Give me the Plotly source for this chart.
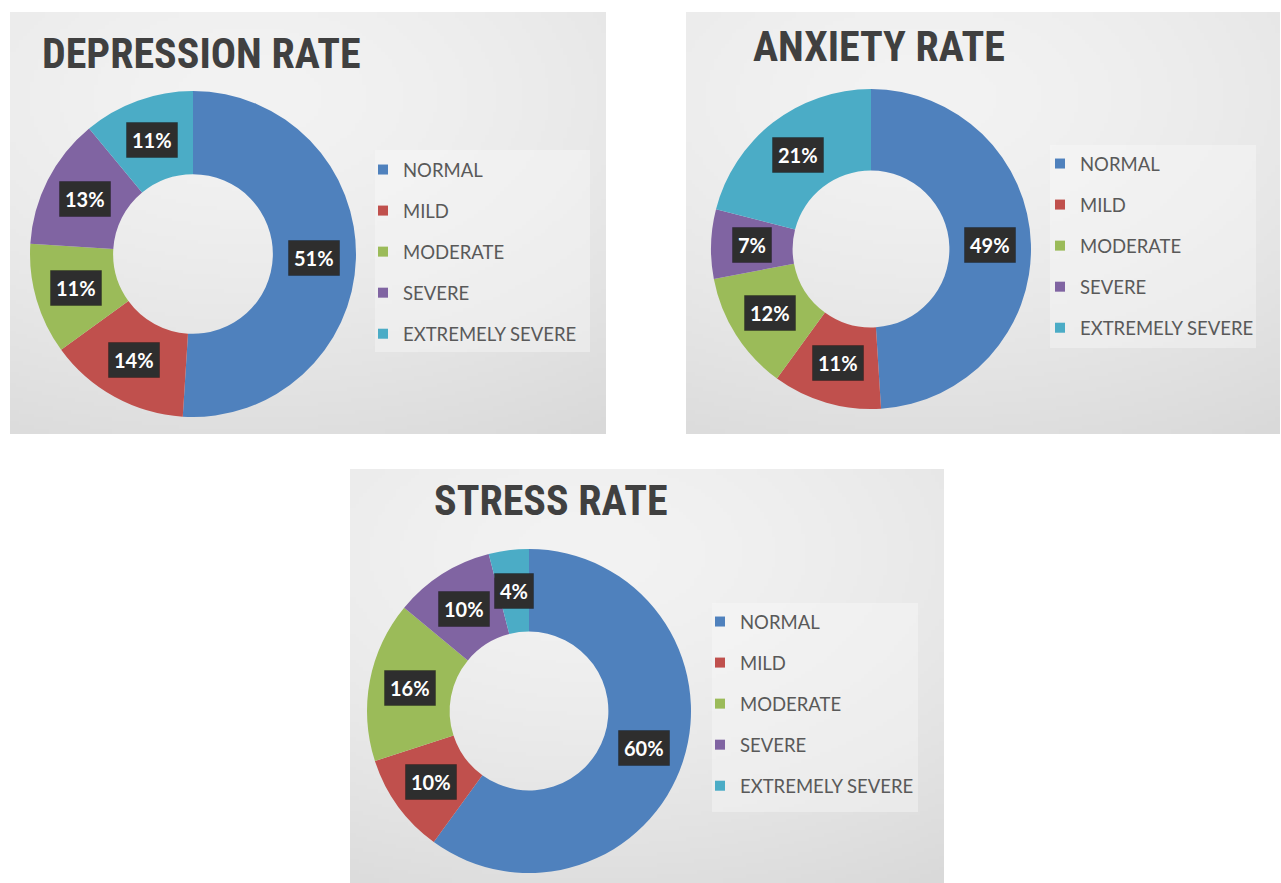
import zlib, struct, base64
import numpy as np
import plotly.graph_objects as go

W, H = 1281, 883

# ---------------- data ----------------
categories = ["NORMAL", "MILD", "MODERATE", "SEVERE", "EXTREMELY SEVERE"]
titles = ["DEPRESSION RATE", "ANXIETY RATE", "STRESS RATE"]
depression = [51, 14, 11, 13, 11]
anxiety = [49, 11, 12, 7, 21]
stress = [60, 10, 16, 10, 4]
series = [depression, anxiety, stress]
colors = ["#4f81bd", "#c0504d", "#9bbb59", "#8064a2", "#4bacc6"]

# ---------------- layout (pixels) ----------------
panels = [(10, 12, 606, 434), (686, 12, 1280, 434), (350, 469, 944, 883)]
centers = [(193, 254, 163), (871, 249, 160), (529, 711, 162)]
hole = 0.49
title_pos = [(40, 54), (751, 46), (432, 500)]
legend_boxes = [(375, 150, 590, 352), (1050, 145, 1256, 348), (712, 603, 918, 812)]
legend_text_start = [(403, 167), (1080, 161), (740, 619)]


def px(x):
    return x / W


def py(y):
    return 1 - y / H


def png_uri(arr):
    h, w = arr.shape
    raw = b"".join(b"\x00" + arr[i].tobytes() for i in range(h))

    def chunk(t, d):
        c = struct.pack(">I", len(d)) + t + d
        return c + struct.pack(">I", zlib.crc32(t + d) & 0xFFFFFFFF)

    png = (b"\x89PNG\r\n\x1a\n"
           + chunk(b"IHDR", struct.pack(">IIBBBBB", w, h, 8, 0, 0, 0, 0))
           + chunk(b"IDAT", zlib.compress(raw))
           + chunk(b"IEND", b""))
    return "data:image/png;base64," + base64.b64encode(png).decode()


gw, gh = 160, 112
gx, gy = np.meshgrid(np.linspace(0, 1, gw), np.linspace(0, 1, gh))
d = np.sqrt(((gx - 0.4) / 1.0) ** 2 + ((gy - 0.2) / 0.85) ** 2)
grad = np.clip(243 - 22 * d ** 1.5, 0, 255).astype(np.uint8)
bg_uri = png_uri(grad)

fig = go.Figure()
images, shapes, annotations = [], [], []
legend_names = ["legend", "legend2", "legend3"]
legend_layouts = {}

for i, vals in enumerate(series):
    x0, y0, x1, y1 = panels[i]
    images.append(dict(source=bg_uri, xref="paper", yref="paper", x=px(x0), y=py(y0),
                       sizex=(x1 - x0) / W, sizey=(y1 - y0) / H, sizing="stretch",
                       xanchor="left", yanchor="top", layer="below"))
    lx0, ly0, lx1, ly1 = legend_boxes[i]
    shapes.append(dict(type="rect", xref="paper", yref="paper", x0=px(lx0), x1=px(lx1),
                       y0=py(ly1), y1=py(ly0), fillcolor="rgba(250,250,250,0.4)",
                       line=dict(width=0), layer="below"))

    cx, cy, r = centers[i]
    fig.add_trace(go.Pie(
        labels=categories, values=vals, hole=hole, sort=False, direction="clockwise",
        rotation=0, marker=dict(colors=colors, line=dict(width=0)), textinfo="none",
        showlegend=False, hoverinfo="label+percent",
        domain=dict(x=[px(cx - r), px(cx + r)], y=[py(cy + r), py(cy - r)]),
    ))

    # labels at the middle of each ring segment
    total = sum(vals)
    rm = r * (1 + hole) / 2
    cum = 0
    for v in vals:
        m = (cum + v / 2) / total
        cum += v
        th = 2 * np.pi * m
        lx = cx + rm * np.sin(th)
        ly = cy - rm * np.cos(th)
        txt = f"<b>{round(100 * v / total)}%</b>"
        annotations.append(dict(x=px(lx), y=py(ly), xref="paper", yref="paper", text=txt,
                                showarrow=False, xanchor="center", yanchor="middle",
                                font=dict(family="Lato", size=20, color="white"),
                                bgcolor="#2e2e2e", borderpad=5,
                                bordercolor="rgba(0,0,0,0.25)", borderwidth=1))

    tx, ty = title_pos[i]
    annotations.append(dict(x=px(tx), y=py(ty), xref="paper", yref="paper",
                            text=f"<b>{titles[i]}</b>", showarrow=False,
                            xanchor="left", yanchor="middle",
                            font=dict(family="Liberation Sans Narrow, Roboto Condensed, DejaVu Sans Condensed, Lato",
                                      size=42, color="#404040")))

    lg = legend_names[i]
    for cat, col in zip(categories, colors):
        fig.add_trace(go.Scatter(x=[None], y=[None], mode="markers", name=cat,
                                 marker=dict(symbol="square", size=10, color=col),
                                 legend=lg, legendgroup=f"{lg}_{cat}", showlegend=True,
                                 hoverinfo="skip"))
    ttx, tty = legend_text_start[i]
    legend_layouts[lg] = dict(x=px(ttx - 40), y=py(tty - 16), xanchor="left", yanchor="top",
                              bgcolor="rgba(0,0,0,0)", borderwidth=0,
                              font=dict(family="Lato", size=18.5, color="#595959"),
                              tracegroupgap=14, itemwidth=30, traceorder="grouped")

fig.update_layout(
    width=W, height=H, margin=dict(l=0, r=0, t=0, b=0),
    paper_bgcolor="white", plot_bgcolor="rgba(0,0,0,0)",
    xaxis=dict(visible=False), yaxis=dict(visible=False),
    images=images, shapes=shapes, annotations=annotations,
    **legend_layouts,
)

fig.write_html("out.html", config={"displayModeBar": False},
               post_script="document.body.style.margin='0';")
